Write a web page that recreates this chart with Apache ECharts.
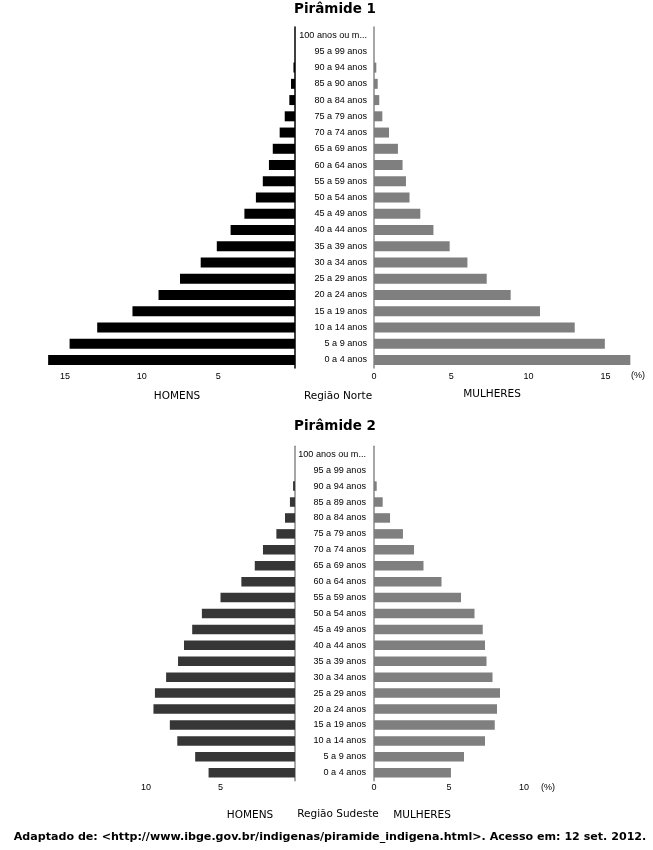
<!DOCTYPE html>
<html>
<head>
<meta charset="utf-8">
<script src="https://cdn.jsdelivr.net/npm/echarts@6/dist/echarts.min.js"></script>
<style>
html,body{margin:0;padding:0;background:#fff;}
#c{width:653px;height:850px;}
</style>
</head>
<body>
<div id="c"></div>
<script>
// Categories (bottom to top)
const categoriesNorte = ['0 a 4 anos','5 a 9 anos','10 a 14 anos','15 a 19 anos','20 a 24 anos','25 a 29 anos','30 a 34 anos','35 a 39 anos','40 a 44 anos','45 a 49 anos','50 a 54 anos','55 a 59 anos','60 a 64 anos','65 a 69 anos','70 a 74 anos','75 a 79 anos','80 a 84 anos','85 a 90 anos','90 a 94 anos','95 a 99 anos','100 anos ou m...'];
const categoriesSudeste = ['0 a 4 anos','5 a 9 anos','10 a 14 anos','15 a 19 anos','20 a 24 anos','25 a 29 anos','30 a 34 anos','35 a 39 anos','40 a 44 anos','45 a 49 anos','50 a 54 anos','55 a 59 anos','60 a 64 anos','65 a 69 anos','70 a 74 anos','75 a 79 anos','80 a 84 anos','85 a 89 anos','90 a 94 anos','95 a 99 anos','100 anos ou m...'];

// Pirâmide 1 - Região Norte (%)
const norteHomens   = [16.1,14.7,12.9,10.6,8.9,7.5,6.15,5.1,4.2,3.3,2.55,2.1,1.7,1.45,1.0,0.67,0.37,0.26,0.1,0,0];
const norteMulheres = [16.6,14.95,13.0,10.75,8.85,7.3,6.05,4.9,3.85,3.0,2.3,2.07,1.85,1.55,0.97,0.54,0.34,0.24,0.15,0,0];

// Pirâmide 2 - Região Sudeste (%)
const sudesteHomens   = [5.8,6.7,7.9,8.4,9.5,9.4,8.65,7.85,7.45,6.9,6.25,5.0,3.6,2.7,2.15,1.25,0.67,0.34,0.13,0,0];
const sudesteMulheres = [5.13,6.0,7.4,8.05,8.2,8.4,7.9,7.5,7.4,7.25,6.7,5.8,4.5,3.3,2.67,1.93,1.07,0.58,0.18,0,0];

const tickInterval = 5;

const chart = echarts.init(document.getElementById('c'));
const FONT = 'Liberation Sans, Arial, sans-serif';
const FONT2 = 'DejaVu Sans, Verdana, sans-serif';

function xAx(grid, max, inverse, hideMin, margin){
  return {
    type:'value', gridIndex:grid, min:0, max:max, interval:tickInterval, inverse:inverse,
    axisLine:{show:false}, axisTick:{show:false}, splitLine:{show:false},
    axisLabel:{showMinLabel:!hideMin, showMaxLabel:false, color:'#000', fontSize:9, fontFamily:FONT, margin:margin}
  };
}
function yAx(grid, cats, pos, lineColor, showLabel, margin){
  return {
    type:'category', gridIndex:grid, data:cats, position:pos,
    axisLine:{show:true, lineStyle:{color:lineColor, width:1.5}},
    axisTick:{show:false}, splitLine:{show:false},
    axisLabel:{show:showLabel, color:'#000', fontSize:9.1, fontFamily:FONT, margin:margin, interval:0}
  };
}

function txt(x, y, s, size, bold, font){
  return {type:'text', x:x, y:y, style:{text:s, fill:'#000', fontSize:size, fontWeight:bold?'bold':'normal', fontFamily:font||FONT2, align:'center', verticalAlign:'middle'}};
}

chart.setOption({
  animation:false,
  backgroundColor:'#fff',
  grid:[
    {left:19, top:27, width:276, height:341},
    {left:374, top:27, width:262.5, height:341},
    {left:116.2, top:446.3, width:178.8, height:334.4},
    {left:374, top:446.3, width:180, height:334.4}
  ],
  xAxis:[
    xAx(0, 18, true, true, 4),
    xAx(1, 17, false, false, 4),
    xAx(2, 12, true, true, 2),
    xAx(3, 12, false, false, 2)
  ],
  yAxis:[
    yAx(0, categoriesNorte, 'right', '#000', false, 0),
    yAx(1, categoriesNorte, 'left', '#888', true, 7),
    yAx(2, categoriesSudeste, 'right', '#888', false, 0),
    yAx(3, categoriesSudeste, 'left', '#888', true, 8)
  ],
  series:[
    {type:'bar', xAxisIndex:0, yAxisIndex:0, data:norteHomens, barWidth:10, itemStyle:{color:'#000'}},
    {type:'bar', xAxisIndex:1, yAxisIndex:1, data:norteMulheres, barWidth:10, itemStyle:{color:'#7f7f7f'}},
    {type:'bar', xAxisIndex:2, yAxisIndex:2, data:sudesteHomens, barWidth:9.5, itemStyle:{color:'#363636'}},
    {type:'bar', xAxisIndex:3, yAxisIndex:3, data:sudesteMulheres, barWidth:9.5, itemStyle:{color:'#7f7f7f'}}
  ],
  graphic:[
    txt(335, 9, 'Pirâmide 1', 13.5, true),
    txt(177, 396, 'HOMENS', 10.5, false),
    txt(338, 396, 'Região Norte', 10.5, false),
    txt(492, 394, 'MULHERES', 10.5, false),
    txt(638, 376, '(%)', 9, false, FONT),
    txt(335, 426, 'Pirâmide 2', 13.5, true),
    txt(250, 815, 'HOMENS', 10.5, false),
    txt(338, 814, 'Região Sudeste', 10.5, false),
    txt(422, 815, 'MULHERES', 10.5, false),
    txt(548, 788, '(%)', 9, false, FONT),
    txt(330, 837, 'Adaptado de: <http://www.ibge.gov.br/indigenas/piramide_indigena.html>. Acesso em: 12 set. 2012.', 11.1, true)
  ]
});
</script>
</body>
</html>
